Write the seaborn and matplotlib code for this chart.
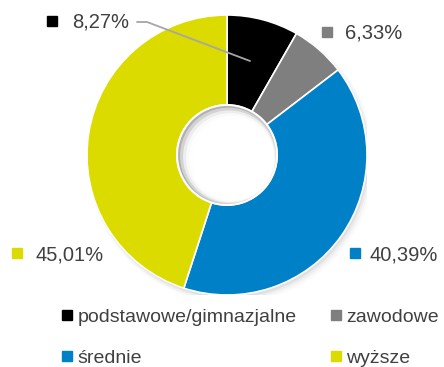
import matplotlib
matplotlib.use("Agg")
import matplotlib.pyplot as plt
from matplotlib.lines import Line2D
import seaborn as sns

# Education level shares (%)
categories = ["podstawowe/gimnazjalne", "zawodowe", "średnie", "wyższe"]
shares = [8.27, 6.33, 40.39, 45.01]
share_labels = ["8,27%", "6,33%", "40,39%", "45,01%"]
colors = ["#000000", "#7F7F7F", "#0080C6", "#DBDB00"]

sns.set_theme(style="white")
plt.rcParams["font.family"] = ["Liberation Sans Narrow", "Liberation Sans", "DejaVu Sans"]
text_color = "#404040"

W, H = 444, 367
fig = plt.figure(figsize=(W / 100, H / 100), dpi=100)
fig.patch.set_facecolor("white")

# pie geometry in pixels
cx, cy, R = 227, 155, 140
ax = fig.add_axes([(cx - R) / W, (H - cy - R) / H, 2 * R / W, 2 * R / H])

def px(x, y):
    return ((x - cx) / R, (cy - y) / R)

# soft drop shadow behind the ring
for i, a in enumerate([0.05, 0.035, 0.025, 0.015]):
    ax.add_patch(plt.Circle((0.012 + 0.005 * i, -0.02 - 0.005 * i), 1.0 + 0.008 * i,
                            color="black", alpha=a, lw=0, zorder=0))

hole = 0.357
ax.pie(shares, colors=colors, startangle=90, counterclock=False, radius=1.0,
       wedgeprops=dict(width=1 - hole, edgecolor="white", linewidth=1.2, zorder=2))
ax.set_xlim(-1, 1)
ax.set_ylim(-1, 1)
ax.set_aspect("equal")
ax.axis("off")

# hole with an inner shadow along its upper-left rim
ax.add_patch(plt.Circle((0, 0), hole, color="#B0B0B0", lw=0, zorder=3))
for i, a in enumerate([0.45, 0.6, 0.75, 0.9, 1.0]):
    d = 0.012 * (i + 1)
    ax.add_patch(plt.Circle((d * 0.7, -d * 0.5), hole - d * 1.1, color="white",
                            alpha=a, lw=0, zorder=4))
ax.add_patch(plt.Circle((0, 0), hole, fill=False, edgecolor="white", lw=1.5, zorder=5))

# value labels with square keys
label_pos = [(72, 22), (345, 33), (369, 255), (35, 255)]
marker_pos = [(52, 21), (327, 32), (355, 253), (17, 253)]
for (tx, ty), (mx, my), lab, col in zip(label_pos, marker_pos, share_labels, colors):
    x, y = px(tx, ty)
    ax.text(x, y, lab, fontsize=14.5, color=text_color, ha="left", va="center",
            clip_on=False, zorder=6)
    x, y = px(mx, my)
    ax.plot([x], [y], marker="s", markersize=7, color=col, linestyle="none",
            clip_on=False, zorder=6)

# leader line for the small black slice
lx, ly = zip(*[px(137, 22), px(147, 22), px(250, 61)])
ax.plot(lx, ly, color="#A6A6A6", lw=1.3, clip_on=False, zorder=6)

# legend, filled row by row
order = [0, 2, 1, 3]
handles = [Line2D([], [], marker="s", markersize=7, color=colors[i], linestyle="none")
           for i in order]
labels = [categories[i] for i in order]
fig.legend(handles, labels, loc="upper left", bbox_to_anchor=(61 / W, 1 - 308 / H),
           ncol=2, frameon=False, fontsize=14, labelcolor=text_color,
           handlelength=0.6, handletextpad=0.25, columnspacing=1.7,
           labelspacing=1.2, borderpad=0, borderaxespad=0)

fig.savefig("out.png", dpi=100, facecolor="white")
